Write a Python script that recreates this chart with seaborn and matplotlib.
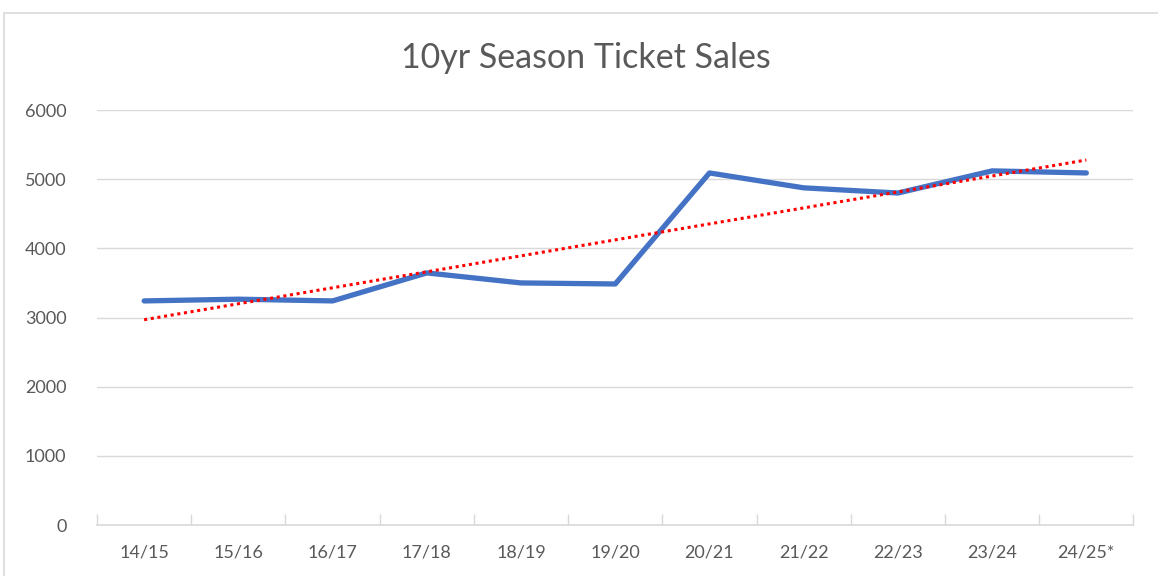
import numpy as np
import pandas as pd
import seaborn as sns
import matplotlib.pyplot as plt
from matplotlib.patches import Rectangle

# season ticket sales per season
seasons = ["14/15", "15/16", "16/17", "17/18", "18/19", "19/20",
           "20/21", "21/22", "22/23", "23/24", "24/25*"]
sales = [3240, 3265, 3240, 3645, 3500, 3485, 5090, 4875, 4800, 5120, 5090]

df = pd.DataFrame({"idx": np.arange(len(seasons)), "season": seasons, "sales": sales})

sns.set_theme(style="white")
plt.rcParams['font.family'] = ['Lato', 'DejaVu Sans']

fig = plt.figure(figsize=(11.58, 5.76), dpi=100)
ax = fig.add_axes([0.0838, 0.0885, 0.895, 0.7205])

# grid
for v in range(1000, 7000, 1000):
    ax.axhline(v, color="#d9d9d9", lw=1, zorder=0)

sns.lineplot(data=df, x="idx", y="sales", color="#4472c4", lw=3.8, ax=ax, zorder=3)
sns.regplot(data=df, x="idx", y="sales", ci=None, scatter=False, ax=ax,
            line_kws={"color": "#ff0000", "lw": 2.2, "ls": (0, (1, 1.2)), "zorder": 4})

ax.set_xlim(-0.5, len(seasons) - 0.5)
ax.set_ylim(0, 6000)
ax.set_yticks(range(0, 7000, 1000))
ax.set_xticks(df["idx"])
ax.set_xticklabels(seasons)
ax.set_xticks(np.arange(-0.5, len(seasons)), minor=True)
ax.tick_params(axis="x", which="major", length=0, pad=14, labelsize=13, labelcolor="#595959")
ax.tick_params(axis="x", which="minor", length=8, direction="in", color="#d9d9d9", width=1, bottom=True)
ax.tick_params(axis="y", length=0, pad=22, labelsize=13, labelcolor="#595959")
ax.set_xlabel("")
ax.set_ylabel("")

for s in ["top", "right", "left"]:
    ax.spines[s].set_visible(False)
ax.spines["bottom"].set_color("#d9d9d9")
ax.spines["bottom"].set_linewidth(1.2)

fig.text(0.506, 0.90, "10yr Season Ticket Sales", ha="center", va="center",
         fontsize=24.5, color="#595959")

# chart area border
fig.patches.append(Rectangle((4 / 1158, -0.05), 1.1, 1.05 - 13 / 576, transform=fig.transFigure,
                             fill=False, edgecolor="#d9d9d9", lw=1.2))

fig.savefig("out.png", dpi=100, facecolor="white")
